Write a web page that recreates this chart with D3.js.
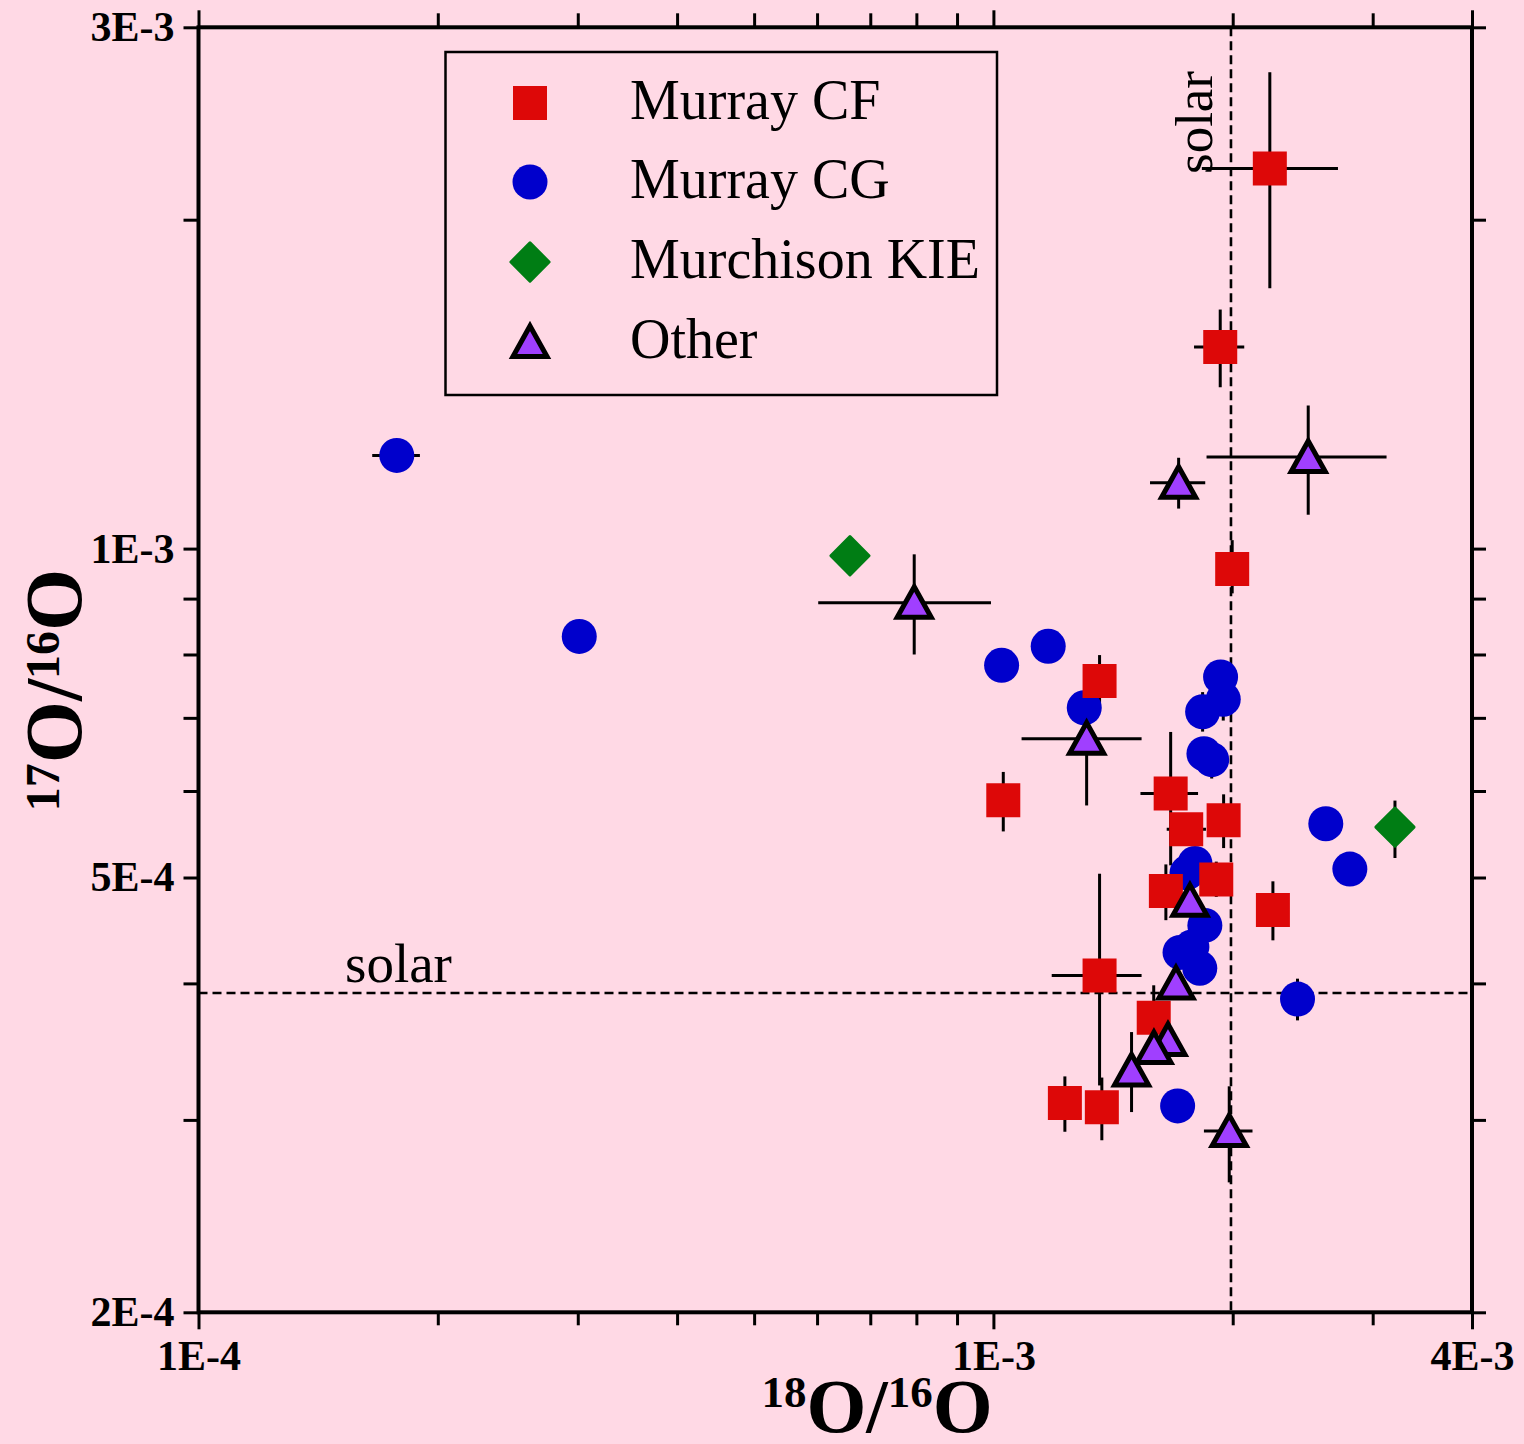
<!DOCTYPE html>
<html>
<head>
<meta charset="utf-8">
<script src="https://cdn.jsdelivr.net/npm/d3@7"></script>
<style>
  html, body { margin: 0; padding: 0; background: #FFD9E5; }
  svg { display: block; }
</style>
</head>
<body>
<svg id="chart" width="1524" height="1444"></svg>
<script>
// ---------- DATA ----------
// each row: [x (18O/16O), y (17O/16O), xLow, xHigh, yLow, yHigh]  (null = no error bar)
const murrayCF = [
  [2.227e-3, 2.228e-3, 1.829e-3, 2.713e-3, 1.731e-3, 2.729e-3],
  [1.929e-3, 1.529e-3, 1.788e-3, 2.068e-3, 1.405e-3, 1.655e-3],
  [1.997e-3, 9.58e-4,  null, null, 9.10e-4, 1.018e-3],
  [1.360e-3, 7.566e-4, null, null, 7.17e-4, 7.99e-4],
  [1.029e-3, 5.884e-4, null, null, 5.51e-4, 6.246e-4],
  [1.671e-3, 5.967e-4, 1.531e-3, 1.809e-3, 5.13e-4, 6.795e-4],
  [1.748e-3, 5.535e-4, 1.652e-3, 1.851e-3, null, null],
  [1.948e-3, 5.64e-4,  null, null, 5.32e-4, 5.958e-4],
  [1.648e-3, 4.86e-4,  null, null, 4.57e-4, 5.14e-4],
  [1.907e-3, 4.98e-4,  null, null, 4.80e-4, 5.17e-4],
  [2.247e-3, 4.668e-4, null, null, 4.38e-4, 4.96e-4],
  [1.360e-3, 4.068e-4, 1.184e-3, 1.536e-3, 3.226e-4, 5.04e-4],
  [1.591e-3, 3.72e-4,  null, null, 3.47e-4, 3.984e-4],
  [1.230e-3, 3.108e-4, null, null, 2.926e-4, 3.288e-4],
  [1.369e-3, 3.081e-4, null, null, 2.874e-4, 3.28e-4]
];
const murrayCG = [
  [1.776e-4, 1.217e-3, 1.654e-4, 1.899e-4, null, null],
  [3.013e-4, 8.31e-4,  null, null, null, null],
  [1.024e-3, 7.82e-4,  null, null, null, null],
  [1.172e-3, 8.14e-4,  null, null, null, null],
  [1.301e-3, 7.15e-4,  null, null, null, null],
  [1.931e-3, 7.63e-4,  null, null, null, null],
  [1.946e-3, 7.28e-4,  null, null, 6.96e-4, 7.60e-4],
  [1.833e-3, 7.09e-4,  null, null, 6.80e-4, 7.39e-4],
  [1.840e-3, 6.49e-4,  null, null, null, null],
  [1.882e-3, 6.41e-4,  null, null, 6.16e-4, 6.68e-4],
  [2.619e-3, 5.60e-4,  null, null, null, null],
  [2.808e-3, 5.09e-4,  null, null, null, null],
  [1.793e-3, 5.15e-4,  null, null, null, null],
  [1.752e-3, 5.05e-4,  null, null, null, null],
  [1.845e-3, 4.52e-4,  null, null, null, null],
  [1.717e-3, 4.27e-4,  null, null, null, null],
  [1.777e-3, 4.32e-4,  null, null, null, null],
  [1.818e-3, 4.13e-4,  null, null, null, null],
  [2.413e-3, 3.87e-4,  null, null, 3.70e-4, 4.04e-4],
  [1.705e-3, 3.09e-4,  null, null, null, null]
];
const murchisonKIE = [
  [6.60e-4, 9.85e-4, null, null, null, null],
  [3.20e-3, 5.56e-4, null, null, 5.21e-4, 5.88e-4]
];
const other = [
  [7.95e-4, 8.92e-4,  6.02e-4, 9.93e-4, 8.00e-4, 9.88e-4],
  [1.310e-3, 6.70e-4, 1.085e-3, 1.536e-3, 5.82e-4, 7.42e-4],
  [1.710e-3, 1.149e-3, 1.574e-3, 1.847e-3, 1.088e-3, 1.211e-3],
  [2.489e-3, 1.213e-3, 1.854e-3, 3.123e-3, 1.074e-3, 1.352e-3],
  [1.767e-3, 4.76e-4, null, null, null, null],
  [1.697e-3, 4.00e-4, null, null, null, null],
  [1.658e-3, 3.55e-4, null, null, null, null],
  [1.592e-3, 3.49e-4, null, null, null, null],
  [1.492e-3, 3.33e-4, null, null, 3.05e-4, 3.61e-4],
  [1.980e-3, 2.93e-4, 1.840e-3, 2.118e-3, 2.63e-4, 3.22e-4]
];
const seriesNames = ["Murray CF", "Murray CG", "Murchison KIE", "Other"];
const solarX = 1.99e-3;
const solarY = 3.92e-4;
const xMajorTicks = [1e-4, 1e-3, 4e-3];
const xMajorLabels = ["1E-4", "1E-3", "4E-3"];
const xMinorTicks = [2e-4, 3e-4, 4e-4, 5e-4, 6e-4, 7e-4, 8e-4, 9e-4, 2e-3, 3e-3];
const yMajorTicks = [2e-4, 5e-4, 1e-3, 3e-3];
const yMajorLabels = ["2E-4", "5E-4", "1E-3", "3E-3"];
const yMinorTicks = [3e-4, 4e-4, 6e-4, 7e-4, 8e-4, 9e-4, 2e-3];

// ---------- STYLE ----------
const BG = "#FFD9E5";
const RED = "#DD0808", BLUE = "#0000CC", GREEN = "#007D14", PURPLE = "#A03FFF";
const SERIF = "'Liberation Serif', 'Times New Roman', serif";

const svg = d3.select("#chart");
svg.append("rect").attr("width", 1524).attr("height", 1444).attr("fill", BG);

const L = 198.5, R = 1472, T = 27.3, B = 1312.3;
const x = d3.scaleLog().domain([1e-4, 4e-3]).range([L, R]);
const y = d3.scaleLog().domain([2e-4, 3e-3]).range([B, T]);

// ---------- AXES (ticks) ----------
function styleAxis(g) {
  g.select(".domain").remove();
  g.selectAll(".tick line").attr("stroke", "#000").attr("stroke-width", 3);
  g.selectAll(".tick text").attr("fill", "#000").attr("font-family", SERIF)
    .attr("font-weight", "bold").attr("font-size", 42);
}
const fmt = (ticks, labels) => v => labels[ticks.indexOf(v)] || "";

// bottom
svg.append("g").attr("transform", `translate(0,${B})`)
  .call(d3.axisBottom(x).tickValues(xMinorTicks).tickSize(13).tickFormat("")).call(styleAxis);
svg.append("g").attr("transform", `translate(0,${B})`)
  .call(d3.axisBottom(x).tickValues(xMajorTicks).tickSize(17).tickPadding(11)
    .tickFormat(fmt(xMajorTicks, xMajorLabels))).call(styleAxis)
  .selectAll(".tick text").attr("dy", "0.71em");
// top
svg.append("g").attr("transform", `translate(0,${T})`)
  .call(d3.axisTop(x).tickValues(xMinorTicks).tickSize(14).tickFormat("")).call(styleAxis);
svg.append("g").attr("transform", `translate(0,${T})`)
  .call(d3.axisTop(x).tickValues(xMajorTicks).tickSize(17).tickFormat("")).call(styleAxis);
// left
svg.append("g").attr("transform", `translate(${L},0)`)
  .call(d3.axisLeft(y).tickValues(yMinorTicks).tickSize(15).tickFormat("")).call(styleAxis);
svg.append("g").attr("transform", `translate(${L},0)`)
  .call(d3.axisLeft(y).tickValues(yMajorTicks).tickSize(15).tickPadding(9)
    .tickFormat(fmt(yMajorTicks, yMajorLabels))).call(styleAxis);
// right
svg.append("g").attr("transform", `translate(${R},0)`)
  .call(d3.axisRight(y).tickValues(yMinorTicks.concat(yMajorTicks)).tickSize(14).tickFormat("")).call(styleAxis);

// ---------- SOLAR LINES ----------
svg.append("line").attr("x1", L).attr("x2", R).attr("y1", y(solarY)).attr("y2", y(solarY))
  .attr("stroke", "#000").attr("stroke-width", 2.6).attr("stroke-dasharray", "9,5");
svg.append("line").attr("x1", x(solarX)).attr("x2", x(solarX)).attr("y1", T).attr("y2", B)
  .attr("stroke", "#000").attr("stroke-width", 2.6).attr("stroke-dasharray", "9,5");
svg.append("text").attr("x", 345).attr("y", y(solarY) - 11)
  .attr("font-family", SERIF).attr("font-size", 55).text("solar");
svg.append("text").attr("transform", `translate(${x(solarX) - 19},174) rotate(-90)`)
  .attr("font-family", SERIF).attr("font-size", 53).text("solar");

// ---------- MARKERS ----------
const sqPath = d3.symbol(d3.symbolSquare, 34 * 34)();
const circPath = d3.symbol(d3.symbolCircle, Math.PI * 17.5 * 17.5)();
const diaPath = d3.symbol(d3.symbolSquare, 27 * 27)();
const triPath = "M0,-15L17,15.5L-17,15.5Z";

function drawMarker(g, kind, cx, cy) {
  if (kind === 0) {
    g.append("path").attr("d", sqPath).attr("transform", `translate(${cx},${cy})`).attr("fill", RED);
  } else if (kind === 1) {
    g.append("path").attr("d", circPath).attr("transform", `translate(${cx},${cy})`).attr("fill", BLUE);
  } else if (kind === 2) {
    g.append("path").attr("d", diaPath).attr("transform", `translate(${cx},${cy}) rotate(45)`)
      .attr("fill", GREEN).attr("stroke", GREEN).attr("stroke-width", 3).attr("stroke-linejoin", "round");
  } else {
    g.append("path").attr("d", triPath).attr("transform", `translate(${cx},${cy - 1})`)
      .attr("fill", PURPLE).attr("stroke", "#000").attr("stroke-width", 5).attr("stroke-linejoin", "miter");
  }
}

const allSeries = [murrayCF, murrayCG, murchisonKIE, other];
const errG = svg.append("g");
allSeries.forEach(data => {
  data.forEach(d => {
    const cx = x(d[0]), cy = y(d[1]);
    if (d[2] != null) errG.append("line").attr("x1", x(d[2])).attr("x2", x(d[3])).attr("y1", cy).attr("y2", cy)
      .attr("stroke", "#000").attr("stroke-width", 3);
    if (d[4] != null) errG.append("line").attr("x1", cx).attr("x2", cx).attr("y1", y(d[4])).attr("y2", y(d[5]))
      .attr("stroke", "#000").attr("stroke-width", 3);
  });
});
const markG = svg.append("g");
[1, 0, 2, 3].forEach(k => {
  allSeries[k].forEach(d => drawMarker(markG, k, x(d[0]), y(d[1])));
});

// ---------- FRAME ----------
svg.append("rect").attr("x", L).attr("y", T).attr("width", R - L).attr("height", B - T)
  .attr("fill", "none").attr("stroke", "#000").attr("stroke-width", 4);

// ---------- LEGEND ----------
const leg = svg.append("g");
leg.append("rect").attr("x", 445.5).attr("y", 52).attr("width", 551.5).attr("height", 343)
  .attr("fill", "none").attr("stroke", "#000").attr("stroke-width", 2.5);
const rowY = [103, 182, 262, 342];
seriesNames.forEach((name, i) => {
  drawMarker(leg, i, 530, rowY[i]);
  leg.append("text").attr("x", 630).attr("y", rowY[i] + 16)
    .attr("font-family", SERIF).attr("font-size", 56).attr("fill", "#000").text(name);
});

// ---------- AXIS TITLES ----------
const xt = svg.append("text").attr("x", 877).attr("y", 1432).attr("text-anchor", "middle")
  .attr("font-family", SERIF).attr("font-weight", "bold").attr("fill", "#000");
xt.append("tspan").attr("font-size", 45).attr("dy", -25).text("18");
xt.append("tspan").attr("font-size", 77).attr("dy", 25).text("O/");
xt.append("tspan").attr("font-size", 45).attr("dy", -25).text("16");
xt.append("tspan").attr("font-size", 77).attr("dy", 25).text("O");

const yt = svg.append("text").attr("transform", "translate(81,690) rotate(-90)").attr("text-anchor", "middle")
  .attr("font-family", SERIF).attr("font-weight", "bold").attr("fill", "#000");
yt.append("tspan").attr("font-size", 48).attr("dy", -22).text("17");
yt.append("tspan").attr("font-size", 80).attr("dy", 22).text("O/");
yt.append("tspan").attr("font-size", 48).attr("dy", -22).text("16");
yt.append("tspan").attr("font-size", 80).attr("dy", 22).text("O");
</script>
</body>
</html>
